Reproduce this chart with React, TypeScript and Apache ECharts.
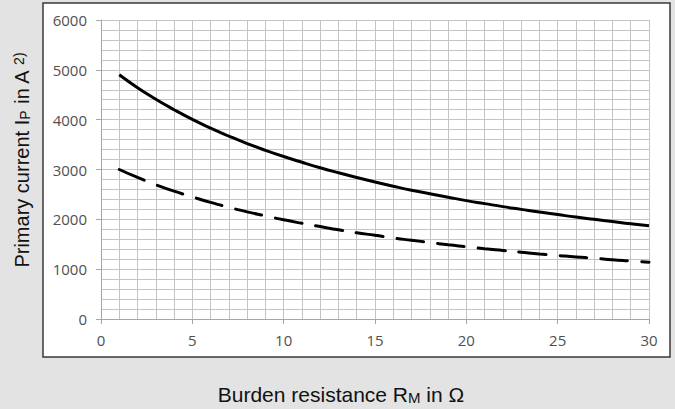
import React, { useEffect, useRef } from "react";
import * as echarts from "echarts";

const burdenResistance = [
  1, 2, 3, 4, 5, 6, 7, 8, 9, 10, 11, 12, 13, 14, 15, 16, 17, 18, 19, 20, 21, 22, 23, 24, 25, 26, 27, 28, 29, 30,
];
const currentSolid = [
  4900, 4640, 4410, 4200, 4005, 3830, 3670, 3520, 3385, 3260, 3145, 3035, 2935, 2840, 2750, 2665, 2585, 2515,
  2445, 2375, 2315, 2255, 2200, 2145, 2095, 2045, 2000, 1955, 1910, 1870,
];
const currentDashed = [
  3000, 2840, 2695, 2565, 2450, 2340, 2240, 2150, 2070, 1990, 1920, 1855, 1790, 1730, 1680, 1625, 1580, 1535,
  1490, 1450, 1410, 1375, 1340, 1305, 1275, 1245, 1220, 1190, 1165, 1140,
];
const xTitle = "Burden resistance R{sub|M} in Ω";
const yTitle = "Primary current I{sub|P} in A {sup|2)}";

const labelFont = "Open Sans";
const titleFont = "Liberation Sans";

const makeRich = (size: number) => ({
  sub: { fontSize: size, lineHeight: size, verticalAlign: "bottom", fontFamily: titleFont, fill: "#111" },
  sup: { fontSize: size, lineHeight: size, verticalAlign: "top", fontFamily: titleFont, fill: "#111" },
});

export default function App() {
  const ref = useRef<HTMLDivElement>(null);
  useEffect(() => {
    if (!ref.current) return;
    const chart = echarts.init(ref.current, null, { renderer: "svg" });
    const pair = (ys: number[]) => burdenResistance.map((x, i) => [x, ys[i]]);
    const labelStyle = { color: "#505050", fontSize: 15, fontFamily: labelFont };
    chart.setOption({
      animation: false,
      backgroundColor: "#e3e3e3",
      textStyle: { fontFamily: labelFont, fontSize: 15 },
      graphic: [
        {
          type: "rect",
          z: -10,
          shape: { x: 43, y: 3, width: 627, height: 354 },
          style: { fill: "#ffffff", stroke: "#3a3a3a", lineWidth: 1.5 },
        },
        {
          type: "text",
          x: 341,
          y: 394,
          style: {
            text: xTitle,
            fontSize: 21,
            fontFamily: titleFont,
            fill: "#111",
            align: "center",
            verticalAlign: "middle",
            rich: makeRich(15),
          },
        },
        {
          type: "text",
          x: 22,
          y: 160,
          rotation: Math.PI / 2,
          style: {
            text: yTitle,
            fontSize: 20,
            fontFamily: titleFont,
            fill: "#111",
            align: "center",
            verticalAlign: "middle",
            rich: makeRich(14),
          },
        },
      ],
      grid: { left: 101, right: 26, top: 20, bottom: 90, outerBoundsMode: "none", containLabel: false },
      xAxis: {
        type: "value",
        min: 0,
        max: 30,
        interval: 5,
        axisLine: { show: true, lineStyle: { color: "#a6a6a6", width: 1 } },
        axisTick: { show: true, length: 5, lineStyle: { color: "#a6a6a6" } },
        axisLabel: { margin: 13, ...labelStyle },
        splitLine: { show: true, lineStyle: { color: "#c4c4c4", width: 1 } },
        minorTick: { show: false, splitNumber: 5 },
        minorSplitLine: { show: true, lineStyle: { color: "#c4c4c4", width: 1 } },
      },
      yAxis: {
        type: "value",
        min: 0,
        max: 6000,
        interval: 1000,
        axisLine: { show: true, lineStyle: { color: "#a6a6a6", width: 1 } },
        axisTick: { show: true, length: 5, lineStyle: { color: "#a6a6a6" } },
        axisLabel: { margin: 14, ...labelStyle, formatter: (v: number) => String(v) },
        splitLine: { show: true, lineStyle: { color: "#c4c4c4", width: 1 } },
        minorTick: { show: false, splitNumber: 5 },
        minorSplitLine: { show: true, lineStyle: { color: "#c4c4c4", width: 1 } },
      },
      series: [
        {
          type: "line",
          data: pair(currentSolid),
          smooth: true,
          showSymbol: false,
          symbol: "none",
          lineStyle: { color: "#000", width: 3 },
        },
        {
          type: "line",
          data: pair(currentDashed),
          smooth: true,
          showSymbol: false,
          symbol: "none",
          lineStyle: { color: "#000", width: 3, type: [27, 14], cap: "round" },
        },
      ],
    });
    return () => chart.dispose();
  }, []);
  return <div ref={ref} style={{ position: "fixed", left: 0, top: 0, width: 675, height: 409 }} />;
}
